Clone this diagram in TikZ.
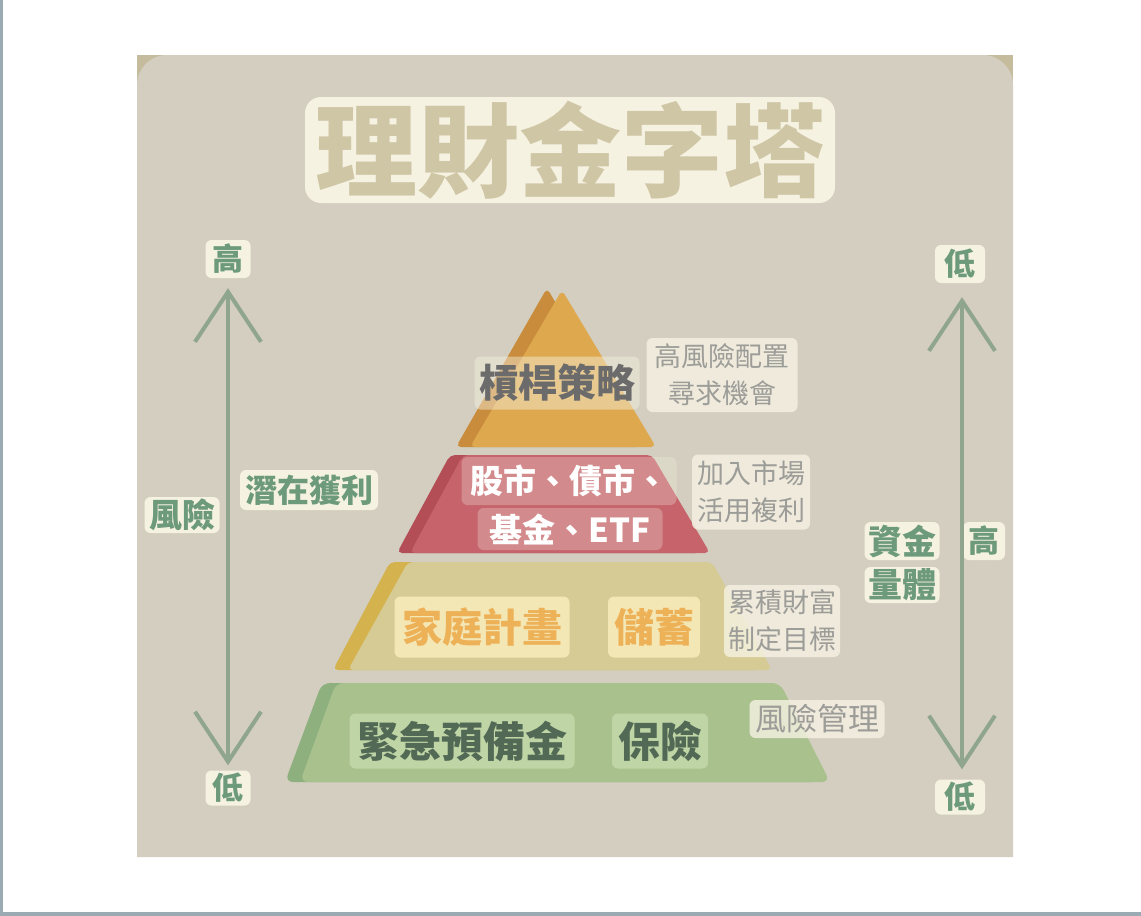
\documentclass[tikz,border=0pt]{standalone}
\usepackage{fontspec}
\usepackage{xcolor}
\usepackage{tikz}
\usetikzlibrary{arrows.meta,positioning,calc}
\newfontfamily\cjk{Noto Sans CJK TC}

\definecolor{panelbg}{HTML}{D3CEBF}
\definecolor{panelrim}{HTML}{C4BC9C}
\definecolor{framegray}{HTML}{9AABB3}
\definecolor{cream}{HTML}{F6F2E2}
\definecolor{titletext}{HTML}{CFC6A6}
\definecolor{axisgreen}{HTML}{6C9A7A}
\definecolor{arrowgreen}{HTML}{8FA58E}
\definecolor{sidegray}{HTML}{9C9C98}
\definecolor{leverdark}{HTML}{C98B3C}
\definecolor{levermain}{HTML}{DDA84E}
\definecolor{stockdark}{HTML}{B34E57}
\definecolor{stockmain}{HTML}{C6636B}
\definecolor{savedark}{HTML}{D4B24E}
\definecolor{savemain}{HTML}{D6CB95}
\definecolor{savetag}{HTML}{F8EBBA}
\definecolor{savetext}{HTML}{EDB157}
\definecolor{safedark}{HTML}{8DB07E}
\definecolor{safemain}{HTML}{A9C18D}
\definecolor{safetag}{HTML}{C3D8A8}
\definecolor{safetext}{HTML}{516955}

\begin{document}
\begin{tikzpicture}[x=1pt, y=-1pt,
        tag/.style={rounded corners=6pt, inner sep=0pt, align=center},
        axislabel/.style={tag, fill=cream, text=axisgreen, font=\cjk\bfseries\fontsize{31}{31}\selectfont},
        sidenote/.style={tag, fill=cream, fill opacity=0.8, text opacity=1, text=sidegray,
            font=\cjk\fontsize{27}{37}\selectfont},
        layertag/.style={tag, fill=cream, fill opacity=0.45, text opacity=1},
        axis/.style={arrowgreen, line width=4pt,
            {Straight Barb[length=50pt, width=66pt]}-{Straight Barb[length=50pt, width=66pt]}},
        >=stealth
    ]
        % frame and panel
        \useasboundingbox (0,0) rectangle (1141,916);
        \fill[white] (0,0) rectangle (1141,916);
        \fill[framegray] (0,0) rectangle (3,916);
        \fill[framegray] (0,912) rectangle (1141,916);
        \fill[panelrim] (137,55) rectangle (1013,140);
        \fill[panelbg] (137,857) {[rounded corners=30pt] -- (137,55) -- (1013,55)} -- (1013,857) -- cycle;

        % title
        \node [tag, fill=cream, rounded corners=16pt, minimum width=530pt, minimum height=106pt,
            text=titletext, font=\cjk\bfseries\fontsize{102}{102}\selectfont] (title) at (570,150) {理財金字塔};

        % pyramid layers
        \fill[leverdark, rounded corners=5pt] (547,288) -- (640,447) -- (456,447) -- cycle;
        \fill[levermain, rounded corners=5pt] (562,290) -- (656,447) -- (470,447) -- cycle;
        \fill[stockdark, rounded corners=5pt] (450,455) -- (640,455) -- (700,553) -- (397,553) -- cycle;
        \fill[stockmain, rounded corners=5pt] (463,455) -- (652,455) -- (710,553) -- (410,553) -- cycle;
        \fill[savedark, rounded corners=5pt] (390,562) -- (700,562) -- (760,670) -- (333,670) -- cycle;
        \fill[savemain, rounded corners=5pt] (408,562) -- (712,562) -- (772,670) -- (348,670) -- cycle;
        \fill[safedark, rounded corners=8pt] (322,683) -- (770,683) -- (818,782) -- (285,782) -- cycle;
        \fill[safemain, rounded corners=8pt] (336,683) -- (780,683) -- (830,782) -- (300,782) -- cycle;

        % layer labels
        \node [layertag, minimum width=165pt, minimum height=53pt, text=black!58,
            font=\cjk\bfseries\fontsize{39}{39}\selectfont] (lever) at (557,383) {槓桿策略};
        \node [layertag, fill opacity=0.28, minimum width=215pt, minimum height=48pt, text=white,
            font=\cjk\bfseries\fontsize{33}{33}\selectfont] (stockA) at (569,481) {股市、債市、};
        \node [layertag, fill opacity=0.28, minimum width=185pt, minimum height=42pt, text=white,
            font=\cjk\bfseries\fontsize{33}{33}\selectfont] (stockB) at (570,529) {基金、ETF};
        \node [layertag, fill=savetag, fill opacity=0.9, minimum width=175pt, minimum height=61pt,
            text=savetext, font=\cjk\bfseries\fontsize{40}{40}\selectfont] (family) at (482,627) {家庭計畫};
        \node [layertag, fill=savetag, fill opacity=0.9, minimum width=92pt, minimum height=61pt,
            text=savetext, font=\cjk\bfseries\fontsize{40}{40}\selectfont] (saving) at (654,627) {儲蓄};
        \node [layertag, fill=safetag, fill opacity=0.9, minimum width=225pt, minimum height=55pt,
            text=safetext, font=\cjk\bfseries\fontsize{42}{42}\selectfont] (emerg) at (462,741) {緊急預備金};
        \node [layertag, fill=safetag, fill opacity=0.9, minimum width=96pt, minimum height=55pt,
            text=safetext, font=\cjk\bfseries\fontsize{42}{42}\selectfont] (insure) at (660,741) {保險};

        % side notes
        \node [sidenote, minimum width=151pt, minimum height=74pt] (noteA) at (722,375) {高風險配置\\尋求機會};
        \node [sidenote, minimum width=118pt, minimum height=75pt] (noteB) at (751,492) {加入市場\\活用複利};
        \node [sidenote, minimum width=116pt, minimum height=72pt] (noteC) at (782,621) {累積財富\\制定目標};
        \node [sidenote, minimum width=135pt, minimum height=38pt,
            font=\cjk\fontsize{31}{31}\selectfont] (noteD) at (817,719) {風險管理};

        % risk axis
        \node [axislabel, minimum width=45pt, minimum height=38pt] (riskHi) at (228,259) {高};
        \node [axislabel, minimum width=45pt, minimum height=35pt] (riskLo) at (228,788) {低};
        \node [axislabel, minimum width=75pt, minimum height=36pt,
            font=\cjk\bfseries\fontsize{33}{33}\selectfont] (risk) at (182,515) {風險};
        \node [axislabel, minimum width=138pt, minimum height=40pt,
            font=\cjk\bfseries\fontsize{32}{32}\selectfont] (profit) at (309,490) {潛在獲利};
        \draw [axis, shorten <=10pt, shorten >=5pt] (riskHi) -- (riskLo);

        % capital axis
        \node [axislabel, minimum width=50pt, minimum height=38pt] (capLo) at (960,264) {低};
        \node [axislabel, minimum width=50pt, minimum height=35pt] (capLoB) at (960,797) {低};
        \node [axislabel, minimum width=75pt, minimum height=38pt,
            font=\cjk\bfseries\fontsize{34}{34}\selectfont] (fund) at (902,541) {資金};
        \node [axislabel, minimum width=75pt, minimum height=36pt,
            font=\cjk\bfseries\fontsize{34}{34}\selectfont] (volume) at (902,585) {量體};
        \node [axislabel, minimum width=42pt, minimum height=38pt] (capHi) at (984,541) {高};
        \draw [axis, shorten <=14pt, shorten >=10pt] ($(capLo.south)+(2,0)$) -- ($(capLoB.north)+(2,0)$);
    \end{tikzpicture}
\end{document}
